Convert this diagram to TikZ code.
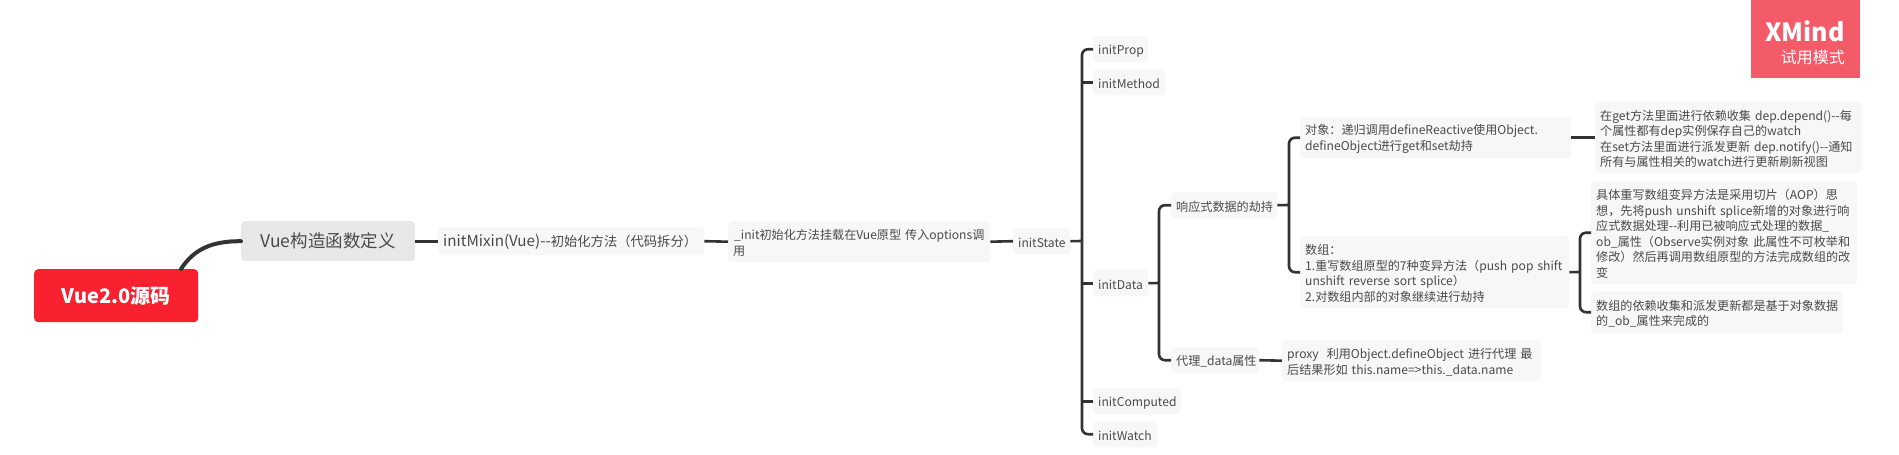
\documentclass[tikz,border=0pt]{standalone}
\usepackage{fontspec}
\setmainfont{Noto Sans CJK SC}
\definecolor{txt}{HTML}{4A4A4A}
\definecolor{boxf}{HTML}{F7F7F7}
\definecolor{midf}{HTML}{E8E8E8}
\definecolor{rootf}{HTML}{F9202F}
\definecolor{lnk}{HTML}{333333}
\definecolor{xm}{HTML}{F45B69}
\tikzset{
  base/.style={anchor=north west,rectangle,rounded corners=4pt,inner xsep=5pt,inner ysep=0pt,align=left,text=txt,
    execute at begin node={\rule{0pt}{13pt}}},
  leaf/.style={base,fill=boxf,font=\fontsize{12.1}{15.5}\selectfont},
  mixin/.style={base,fill=boxf,font=\fontsize{13.3}{16}\selectfont},
  mid/.style={base,fill=midf,align=center,font=\fontsize{17.5}{20}\selectfont},
  rootbox/.style={base,fill=rootf,align=center,text=white,font=\fontsize{20}{24}\selectfont\bfseries},
  conn/.style={draw=lnk,line width=2.6pt,rounded corners=6pt},
  thick link/.style={draw=lnk,line width=4pt,line cap=round},
  xmbox/.style={fill=xm,rectangle,anchor=north west,inner sep=0pt,minimum width=109pt,minimum height=78pt},
  xmtext/.style={anchor=base east,text=white,inner sep=0pt},
}
\newcommand\topic[7][]{%
  \node[#2,minimum width=\the\numexpr#5-#3\relax pt,minimum height=\the\numexpr#6-#4\relax pt,
        text width=\the\numexpr#5-#3-10\relax pt] (#1) at (#3,#4) {#7};}
\begin{document}
\begin{tikzpicture}[x=1pt,y=-1pt]
\useasboundingbox (0,0) rectangle (1899,455);
\fill[white] (0,0) rectangle (1899,455);
% connector junctions
\coordinate (t1) at (1082,241);
\coordinate (t2) at (1159,283);
\coordinate (t3) at (1289,205);
\coordinate (t4) at (1580,272);
\coordinate (rootout) at (181,269);
% topics
\topic[root]{rootbox}{34}{269}{198}{322}{Vue2.0源码}
\topic[vue]{mid}{241}{221}{415}{261}{Vue构造函数定义}
\topic[mixin]{mixin}{438}{227}{704}{255}{{\fontsize{15.2}{16}\selectfont initMixin(Vue)-{}-}初始化方法（代码拆分）}
\topic[init]{leaf}{728}{221}{990}{262}{\kern1pt\_init初始化方法挂载在Vue原型~传入options调\\用}
\topic[state]{leaf}{1013}{228}{1070}{254}{initState}
\topic[prop]{leaf}{1093}{36}{1148}{62}{initProp}
\topic[method]{leaf}{1093}{69}{1165}{95}{initMethod}
\topic[data]{leaf}{1093}{270}{1148}{296}{initData}
\topic[computed]{leaf}{1093}{388}{1181}{414}{initComputed}
\topic[watch]{leaf}{1093}{421}{1157}{447}{initWatch}
\topic[hijack]{leaf}{1171}{192}{1277}{218}{响应式数据的劫持}
\topic[proxyattr]{leaf}{1171}{347}{1259}{373}{代理\_data属性}
\topic[proxytxt]{leaf}{1282}{340}{1541}{381}{proxy~~利用Object.defineObject~进行代理~最\\后结果形如~this.name=>this.\_data.name}
\topic[obj]{leaf}{1300}{117}{1571}{158}{对象：递归调用defineReactive使用Object.\\defineObject进行get和set劫持}
\topic[objnote]{leaf}{1595}{102}{1862}{173}{在get方法里面进行依赖收集~dep.depend()-{}-每\\个属性都有dep实例保存自己的watch\\在set方法里面进行派发更新~dep.notify()-{}-通知\\所有与属性相关的watch进行更新刷新视图}
\topic[arr]{leaf}{1300}{236}{1569}{308}{数组：\\1.重写数组原型的7种变异方法（push~pop~shift\\unshift~reverse~sort~splice）\\2.对数组内部的对象继续进行劫持}
\topic[arrnote]{leaf}{1591}{181}{1857}{284}{具体重写数组变异方法是采用切片（AOP）思\\想，先将push~unshift~splice新增的对象进行响\\应式数据处理-{}-利用已被响应式处理的数据\_\\ob\_属性（Observe实例对象~此属性不可枚举和\\修改）然后再调用数组原型的方法完成数组的改\\变}
\topic[arrdep]{leaf}{1591}{291}{1843}{333}{数组的依赖收集和派发更新都是基于对象数据\\的\_ob\_属性来完成的}
% connectors
\draw[thick link] (rootout) .. controls (194,249) and (212,241) .. (vue.west);
\draw[conn] (vue.east) -- (mixin.west);
\draw[conn] (mixin.east) -- (init.west);
\draw[conn] (init.east) -- (state.west);
\draw[conn] (state.east) -- (t1);
\draw[conn] (prop.west) -| (t1) |- (watch.west);
\draw[conn] (t1 |- method.west) -- (method.west);
\draw[conn] (t1 |- data.west) -- (data.west);
\draw[conn] (t1 |- computed.west) -- (computed.west);
\draw[conn] (data.east) -- (t2);
\draw[conn] (hijack.west) -| (t2) |- (proxyattr.west);
\draw[conn] (hijack.east) -- (t3);
\draw[conn] (obj.west) -| (t3) |- (arr.west);
\draw[conn] (proxyattr.east) -- (proxytxt.west);
\draw[conn] (obj.east) -- (objnote.west);
\draw[conn] (arr.east) -- (t4);
\draw[conn] (arrnote.west) -| (t4) |- (arrdep.west);
% watermark
\node[xmbox] (xmark) at (1751,0) {};
\node[xmtext,font=\fontsize{25}{28}\selectfont\bfseries] (xmname) at (1845,41.5) {XMind};
\node[xmtext,font=\fontsize{16}{20}\selectfont] (xmmode) at (1845,63.5) {试用模式};
\end{tikzpicture}
\end{document}
